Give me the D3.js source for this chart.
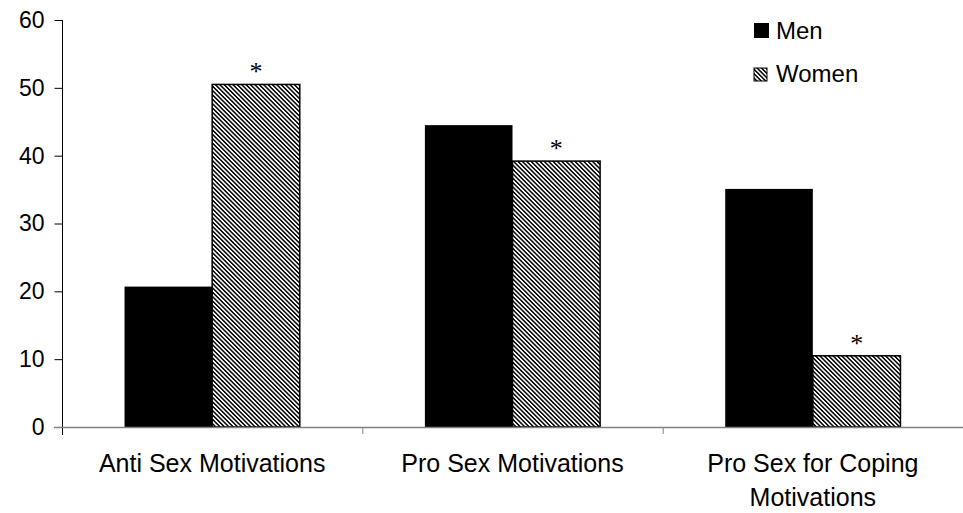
<!DOCTYPE html>
<html lang="en">
<head>
    <meta charset="UTF-8">
    <script src="https://d3js.org/d3.v7.min.js"></script>
    <style>
        body { margin: 0; background: #fff; font-family: "Liberation Sans", Arial, sans-serif; }
        svg { display: block; }
        .tick text { font-family: "Liberation Sans", Arial, sans-serif; }
    </style>
</head>
<body>
    <div id="chart"></div>

    <script>
        // data
        const categories = ["Anti Sex Motivations", "Pro Sex Motivations", "Pro Sex for Coping Motivations"];
        const catLines = [["Anti Sex Motivations"], ["Pro Sex Motivations"], ["Pro Sex for Coping", "Motivations"]];
        const groups = ["Men", "Women"];
        const men = [20.7, 44.5, 35.1];
        const women = [50.5, 39.2, 10.5];
        const significant = [true, true, true]; // asterisk over women bar
        const yTicks = [0, 10, 20, 30, 40, 50, 60];

        const W = 963, H = 513;
        const margin = { top: 20, right: 0, bottom: 86, left: 62 };
        const height = H - margin.top - margin.bottom;
        const width = W - margin.left - margin.right;

        const svg = d3.select("#chart").append("svg")
            .attr("width", W)
            .attr("height", H);

        const defs = svg.append("defs");
        const pat = defs.append("pattern")
            .attr("id", "hatch")
            .attr("patternUnits", "userSpaceOnUse")
            .attr("width", 3.1)
            .attr("height", 10)
            .attr("patternTransform", "rotate(-45)");
        pat.append("rect").attr("width", 3.1).attr("height", 10).attr("fill", "#fff");
        pat.append("rect").attr("width", 1.5).attr("height", 10).attr("fill", "#000");

        const g = svg.append("g").attr("transform", `translate(${margin.left},${margin.top})`);

        const x = d3.scaleBand().domain(categories).range([0, width]).padding(0);
        const xSub = d3.scaleBand().domain(groups).range([0, x.bandwidth()])
            .paddingInner(0).paddingOuter(0.714);
        const y = d3.scaleLinear().domain([0, 60]).range([height, 0]);

        const rows = categories.map((c, i) => ({ cat: c, Men: men[i], Women: women[i], sig: significant[i] }));

        // y axis
        const yAxis = g.append("g")
            .attr("transform", "translate(0.5,0)")
            .call(d3.axisLeft(y).tickValues(yTicks).tickSize(8).tickPadding(10).tickFormat(d3.format("d")));
        yAxis.select(".domain").remove();
        yAxis.selectAll(".tick line").attr("stroke", "#000");
        yAxis.selectAll(".tick text").attr("font-size", 23).attr("fill", "#000");
        g.append("line")
            .attr("x1", 0.5).attr("x2", 0.5)
            .attr("y1", y(60)).attr("y2", y(0) + 8)
            .attr("stroke", "#000");

        // bars
        const cat = g.selectAll(".cat").data(rows).enter().append("g")
            .attr("transform", d => `translate(${x(d.cat)},0)`);

        cat.selectAll("rect")
            .data(d => groups.map(k => ({ key: k, value: d[k] })))
            .enter().append("rect")
            .attr("x", d => xSub(d.key))
            .attr("y", d => y(d.value))
            .attr("width", xSub.bandwidth())
            .attr("height", d => y(0) - y(d.value))
            .attr("fill", d => d.key === "Men" ? "#000" : "url(#hatch)")
            .attr("stroke", "#000")
            .attr("stroke-width", d => d.key === "Men" ? 0 : 1.5);

        cat.filter(d => d.sig).append("text")
            .attr("x", xSub("Women") + xSub.bandwidth() / 2)
            .attr("y", d => y(d.Women) - 4)
            .attr("text-anchor", "middle")
            .attr("font-family", "Liberation Serif, serif")
            .attr("font-size", 26)
            .attr("fill", "#000")
            .text("*");

        // x axis
        g.append("line")
            .attr("x1", -8).attr("x2", width)
            .attr("y1", y(0) + 0.5).attr("y2", y(0) + 0.5)
            .attr("stroke", "#808080").attr("stroke-width", 1.5);
        g.selectAll(".xtick").data(categories.slice(1)).enter().append("line")
            .attr("x1", d => x(d) + 0.5).attr("x2", d => x(d) + 0.5)
            .attr("y1", y(0)).attr("y2", y(0) + 7)
            .attr("stroke", "#808080");

        const labels = g.selectAll(".xlabel").data(rows).enter().append("text")
            .attr("text-anchor", "middle")
            .attr("font-size", 25)
            .attr("fill", "#000")
            .attr("transform", d => `translate(${x(d.cat) + x.bandwidth() / 2},${y(0) + 45})`);
        labels.selectAll("tspan")
            .data((d, i) => catLines[i])
            .enter().append("tspan")
            .attr("x", 0)
            .attr("dy", (d, i) => i === 0 ? 0 : 34)
            .text(d => d);

        // legend
        const legend = svg.append("g").attr("transform", "translate(754,0)");
        const li = legend.selectAll("g").data(groups).enter().append("g")
            .attr("transform", (d, i) => `translate(0,${23 + i * 43})`);
        li.append("rect")
            .attr("y", d => d === "Men" ? 0 : 2)
            .attr("width", d => d === "Men" ? 15 : 13)
            .attr("height", d => d === "Men" ? 15 : 13)
            .attr("fill", d => d === "Men" ? "#000" : "url(#hatch)")
            .attr("stroke", "#000").attr("stroke-width", d => d === "Men" ? 0 : 1);
        li.append("text")
            .attr("x", 22).attr("y", 16)
            .attr("font-size", 24)
            .attr("fill", "#000")
            .text(d => d);
    </script>
</body>
</html>
